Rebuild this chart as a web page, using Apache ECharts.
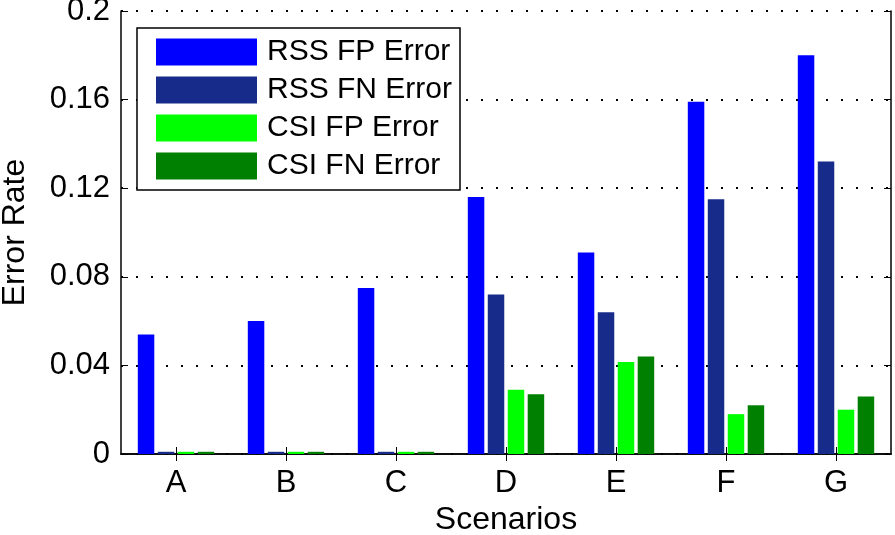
<!DOCTYPE html>
<html>
<head>
<meta charset="utf-8">
<script src="https://cdn.jsdelivr.net/npm/echarts@6/dist/echarts.min.js"></script>
<style>
  html, body { margin: 0; padding: 0; background: #fff; }
  #chart { width: 895px; height: 535px; }
</style>
</head>
<body>
<div id="chart"></div>
<script>
// data
const scenarios = ['A', 'B', 'C', 'D', 'E', 'F', 'G']
const rssFP = [0.054, 0.060, 0.075, 0.116, 0.091, 0.159, 0.180]
const rssFN = [0.001, 0.001, 0.001, 0.072, 0.064, 0.115, 0.132]
const csiFP = [0.001, 0.001, 0.001, 0.029, 0.0415, 0.018, 0.020]
const csiFN = [0.001, 0.001, 0.001, 0.027, 0.044, 0.022, 0.026]

const font = 'Liberation Sans, Arial, Helvetica, sans-serif'
const myChart = echarts.init(document.getElementById('chart'))

const bar = (name, data, color) => ({
    name: name,
    type: 'bar',
    data: data,
    barWidth: 16.5,
    barGap: '21%',
    itemStyle: { color: color },
    emphasis: { disabled: true }
})

myChart.setOption({
    animation: false,
    textStyle: { fontFamily: font },
    grid: {
        left: 121,
        right: 4,
        top: 11,
        bottom: 81,
        containLabel: false,
        outerBoundsMode: 'none'
    },
    legend: {
        orient: 'vertical',
        left: 137,
        top: 28,
        icon: 'rect',
        itemWidth: 101,
        itemHeight: 27,
        itemGap: 8,
        padding: [9, 8, 9, 19],
        backgroundColor: '#fff',
        borderColor: '#000',
        borderWidth: 1.5,
        textStyle: {
            fontFamily: font,
            fontSize: 30,
            lineHeight: 27,
            color: '#000',
            padding: [0, 0, 0, 5]
        },
        data: ['RSS FP Error', 'RSS FN Error', 'CSI FP Error', 'CSI FN Error']
    },
    xAxis: [
        {
            type: 'category',
            data: scenarios,
            name: 'Scenarios',
            nameLocation: 'middle',
            nameGap: 47,
            nameTextStyle: { fontFamily: font, fontSize: 32, color: '#000' },
            axisLine: { show: true, lineStyle: { color: '#000', width: 1.5 } },
            axisTick: { show: true, inside: true, length: 7, alignWithLabel: true, lineStyle: { color: '#000' } },
            axisLabel: { fontFamily: font, fontSize: 31, color: '#000', margin: 14 },
            splitLine: { show: false }
        },
        {
            type: 'category',
            data: scenarios,
            position: 'top',
            axisLine: { show: true, lineStyle: { color: '#000', width: 1.5 } },
            axisTick: { show: true, inside: true, length: 7, alignWithLabel: true, lineStyle: { color: '#000' } },
            axisLabel: { show: false },
            splitLine: { show: false }
        }
    ],
    yAxis: [
        {
            type: 'value',
            min: 0,
            max: 0.2,
            interval: 0.04,
            name: 'Error Rate',
            nameLocation: 'middle',
            nameGap: 90,
            nameTextStyle: { fontFamily: font, fontSize: 32, color: '#000' },
            axisLine: { show: true, lineStyle: { color: '#000', width: 1.5 } },
            axisTick: { show: true, inside: true, length: 7, lineStyle: { color: '#000' } },
            axisLabel: {
                fontFamily: font,
                fontSize: 31,
                color: '#000',
                margin: 11,
                formatter: (v) => String(+v.toFixed(2))
            },
            splitLine: {
                show: true,
                lineStyle: { color: '#000', width: 2, type: [2, 13] }
            }
        },
        {
            type: 'value',
            min: 0,
            max: 0.2,
            interval: 0.04,
            position: 'right',
            axisLine: { show: true, lineStyle: { color: '#000', width: 1.5 } },
            axisTick: { show: true, inside: true, length: 7, lineStyle: { color: '#000' } },
            axisLabel: { show: false },
            splitLine: { show: false }
        }
    ],
    series: [
        bar('RSS FP Error', rssFP, '#0000ff'),
        bar('RSS FN Error', rssFN, '#172b8a'),
        bar('CSI FP Error', csiFP, '#00ff00'),
        bar('CSI FN Error', csiFN, '#008000')
    ]
})
</script>
</body>
</html>
